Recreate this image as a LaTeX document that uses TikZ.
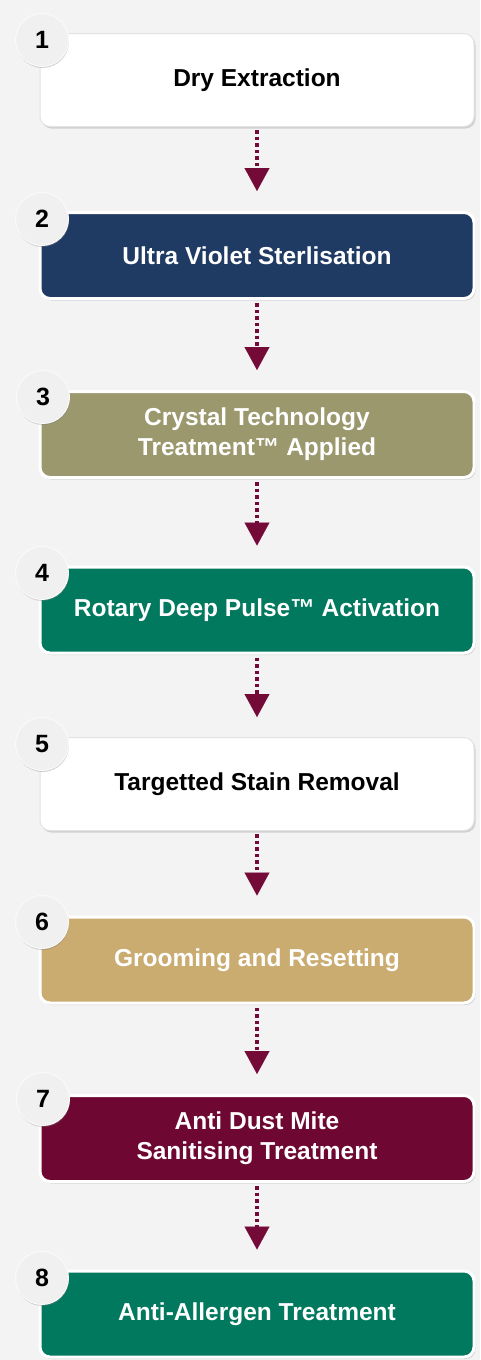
\documentclass[tikz,border=0pt]{standalone}
\usepackage{fontspec}
\setmainfont{Liberation Sans}
\usetikzlibrary{arrows.meta, shadows}

\definecolor{backdrop}{RGB}{243,243,243}
\definecolor{navy}{RGB}{31,58,99}
\definecolor{olive}{RGB}{155,152,110}
\definecolor{pine}{RGB}{0,121,94}
\definecolor{sand}{RGB}{202,172,112}
\definecolor{wine}{RGB}{110,8,50}
\definecolor{arrowred}{RGB}{116,10,56}

\begin{document}
\begin{tikzpicture}[x=1pt, y=-1pt,
    box/.style={rounded corners=10pt, minimum width=434pt, minimum height=86pt,
        draw=white, line width=3pt, text=white, align=center,
        font=\fontsize{24.5}{30}\selectfont\bfseries,
        drop shadow={shadow xshift=1.5pt, shadow yshift=-2pt, opacity=0.3, fill=gray}},
    plain/.style={box, fill=white, draw=gray!22, line width=1pt, text=black, minimum height=93pt},
    disc/.style={circle, minimum size=53pt, inner sep=0pt, fill=gray!12, draw=gray!4, line width=1pt,
        font=\fontsize{25}{25}\selectfont\bfseries, text=black,
        drop shadow={shadow xshift=0.5pt, shadow yshift=-1.5pt, opacity=0.35, fill=gray}},
    flow/.style={draw=arrowred, line width=4pt, dash pattern=on 3.5pt off 3pt,
        -{Triangle[width=25pt, length=23pt, line width=0.1pt]},
        shorten <=3pt, shorten >=20pt}]

    % Background
    \path[use as bounding box, fill=backdrop] (0,0) rectangle (480,1360);

    % Steps
    \node[plain] (s1) at (257,80) {Dry Extraction};
    \node[box, fill=navy] (s2) at (257,255.5) {Ultra Violet Sterlisation};
    \node[box, fill=olive] (s3) at (257,434.5) {Crystal Technology\\Treatment\texttrademark{} Applied};
    \node[box, fill=pine] (s4) at (257,610) {Rotary Deep Pulse\texttrademark{} Activation};
    \node[plain] (s5) at (257,784) {Targetted Stain Removal};
    \node[box, fill=sand] (s6) at (257,960) {Grooming and Resetting};
    \node[box, fill=wine] (s7) at (257,1138.5) {Anti Dust Mite\\Sanitising Treatment};
    \node[box, fill=pine] (s8) at (257,1314) {Anti-Allergen Treatment};

    % Number discs
    \node[disc] (c1) at (42,40) {1};
    \node[disc] (c2) at (42,219) {2};
    \node[disc] (c3) at (43,397) {3};
    \node[disc] (c4) at (42,573) {4};
    \node[disc] (c5) at (42,744) {5};
    \node[disc] (c6) at (42,922) {6};
    \node[disc] (c7) at (43,1099) {7};
    \node[disc] (c8) at (42,1278) {8};

    % Arrows
    \foreach \from/\to in {s1/s2, s2/s3, s3/s4, s4/s5, s5/s6, s6/s7, s7/s8}
        \draw[flow] (\from) -- (\to);
\end{tikzpicture}
\end{document}
